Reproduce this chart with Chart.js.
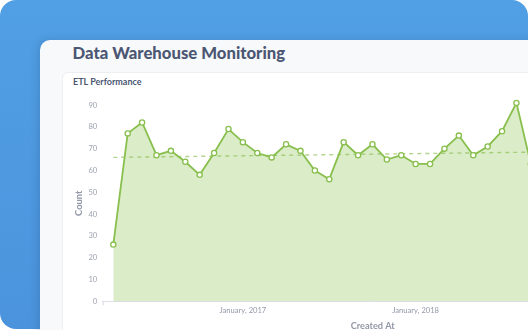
<!DOCTYPE html>
<html><head><meta charset="utf-8">
<script src="https://cdn.jsdelivr.net/npm/chart.js@4"></script>
<style>
html,body{margin:0;padding:0;width:528px;height:330px;overflow:hidden;background:#fff;font-family:Lato,sans-serif}
#bg{position:absolute;left:0;top:0;width:528px;height:329px;border-radius:16px;background:linear-gradient(180deg,#519fe4 0%,#4b94dd 100%)}
#card{position:absolute;left:40px;top:40px;width:560px;height:330px;border-radius:10px;background:#f8f9fb;box-shadow:-2px 0 8px rgba(20,50,90,0.18)}
#title{position:absolute;left:72.5px;top:42.7px;font-weight:900;font-size:16.7px;color:#4c5773;white-space:nowrap}
#panel{position:absolute;left:62px;top:72px;width:560px;height:300px;background:#fff;border:1px solid #eceef2;border-radius:6px}
#sub{position:absolute;left:73px;top:76px;font-weight:700;font-size:9px;color:#4c5773;white-space:nowrap}
#wrap{position:absolute;left:62px;top:95px;width:586px;height:237px}
</style></head>
<body>
<div id="bg"></div>
<div id="card"></div>
<div id="title">Data Warehouse Monitoring</div>
<div id="panel"></div>
<div id="sub">ETL Performance</div>
<div id="wrap"><canvas id="c" width="586" height="237"></canvas></div>
<script>
const categories = ["2016-04","2016-05","2016-06","2016-07","2016-08","2016-09","2016-10","2016-11","2016-12",
  "2017-01","2017-02","2017-03","2017-04","2017-05","2017-06","2017-07","2017-08","2017-09","2017-10","2017-11","2017-12",
  "2018-01","2018-02","2018-03","2018-04","2018-05","2018-06","2018-07","2018-08","2018-09"];
const etlCounts = [26,77,82,67,69,64,58,68,79,73,68,66,72,69,60,56,73,67,72,65,67,63,63,70,76,67,71,78,91,63];
const trendStart = 66.0;
const trendEnd = 68.4;
const xTickIndices = [9, 21];
const xTickLabels = ["January, 2017", "January, 2018"];
const yTicks = [0,10,20,30,40,50,60,70,80,90];

const mainPoints = etlCounts.map((v, i) => ({x: i, y: v}));
const trendPoints = [{x: 0, y: trendStart}, {x: categories.length - 1, y: trendEnd}];

const startTick = {
  id: 'startTick',
  afterDraw(chart) {
    const s = chart.scales.x, ctx = chart.ctx;
    ctx.save();
    ctx.strokeStyle = '#d6d9e0';
    ctx.lineWidth = 1;
    ctx.beginPath();
    ctx.moveTo(s.left + 0.5, s.top);
    ctx.lineTo(s.left + 0.5, s.top + 4);
    ctx.stroke();
    ctx.restore();
  }
};

new Chart(document.getElementById('c'), {
  type: 'line',
  data: {
    datasets: [
      {
        label: 'Count', data: mainPoints,
        borderColor: '#88bf4d', backgroundColor: 'rgba(136,191,77,0.3)',
        borderWidth: 1.8, fill: 'origin', tension: 0,
        pointRadius: 2.6, pointBorderWidth: 1.3,
        pointBackgroundColor: '#ffffff', pointBorderColor: '#88bf4d', clip: false
      },
      {
        label: 'Trend', data: trendPoints,
        borderColor: 'rgba(136,191,77,0.65)', borderWidth: 1.4, borderDash: [4, 4],
        pointRadius: 0, fill: false, tension: 0
      }
    ]
  },
  plugins: [startTick],
  options: {
    responsive: false, animation: false, events: [],
    layout: {padding: {top: 10, left: 0, right: 0, bottom: 0}},
    plugins: {legend: {display: false}, tooltip: {enabled: false}, filler: {drawTime: 'beforeDatasetsDraw'}},
    scales: {
      x: {
        type: 'linear', min: -0.736, max: 36.77,
        grid: {display: false, drawTicks: false},
        border: {display: true, color: '#dcdfe5', width: 1},
        afterBuildTicks: (s) => { s.ticks = xTickIndices.map(v => ({value: v})); },
        afterFit: (s) => { s.height = 30.7; },
        ticks: {
          autoSkip: false, maxRotation: 0, padding: 4.6, color: '#9499a8',
          font: {family: 'Lato', size: 7.6},
          callback: (v) => xTickLabels[xTickIndices.indexOf(v)]
        },
        title: {
          display: true, text: 'Created At', color: '#9398a8',
          font: {family: 'Lato', size: 9.2, weight: 'bold'}, padding: {top: 0, bottom: 0.6}
        }
      },
      y: {
        min: 0, max: 90,
        grid: {display: false, drawTicks: false},
        border: {display: false},
        afterBuildTicks: (s) => { s.ticks = yTicks.map(v => ({value: v})); },
        afterFit: (s) => { s.width = 40.7; },
        ticks: {padding: 5.5, color: '#9ea3b1', font: {family: 'Lato', size: 7.6}},
        title: {
          display: true, text: 'Count', color: '#9398a8',
          font: {family: 'Lato', size: 9.4, weight: 'bold'}, padding: {top: 11.6, bottom: 0}
        }
      }
    }
  }
});
</script>
</body></html>
